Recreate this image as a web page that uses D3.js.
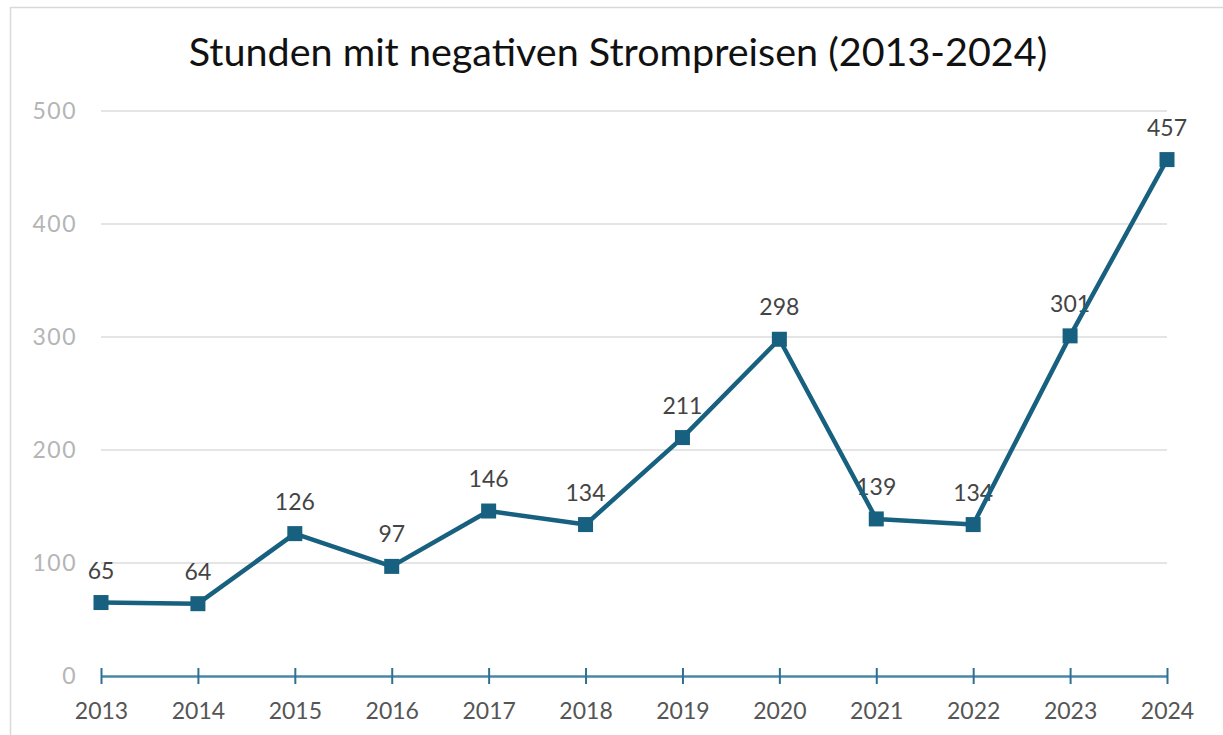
<!DOCTYPE html>
<html><head><meta charset="utf-8">
<script src="https://cdn.jsdelivr.net/npm/d3@7"></script>
<style>body{margin:0;background:#fff}svg{display:block}</style>
</head><body>
<svg id="c" width="1223" height="735"></svg>
<script>
const years = ["2013","2014","2015","2016","2017","2018","2019","2020","2021","2022","2023","2024"];
const hours = [65,64,126,97,146,134,211,298,139,134,301,457];
const yTicks = [0,100,200,300,400,500];
const title = "Stunden mit negativen Strompreisen (2013-2024)";

const svg = d3.select("#c");
const font = "Lato, 'Open Sans', sans-serif";
svg.append("rect").attr("x",10.5).attr("y",7.5).attr("width",1240).attr("height",760)
  .attr("fill","#fff").attr("stroke","#d9d9d9").attr("stroke-width",1.5);

const x = d3.scalePoint().domain(years).range([101,1167]);
const y = d3.scaleLinear().domain([0,500]).range([676,111]);

svg.append("text").attr("x",618).attr("y",66).attr("text-anchor","middle")
  .attr("font-family",font).attr("font-size",39.5).attr("fill","#111").text(title);

// grid
svg.append("g").selectAll("line").data(yTicks.filter(d=>d>0)).join("line")
  .attr("x1",101).attr("x2",1167).attr("y1",d=>y(d)).attr("y2",d=>y(d))
  .attr("stroke","#dcdcdc").attr("stroke-width",1.5);

// y labels
svg.append("g").selectAll("text").data(yTicks).join("text")
  .attr("x",77).attr("y",d=>y(d)).attr("dy","0.35em").attr("text-anchor","end")
  .attr("font-family",font).attr("letter-spacing",1.5)
  .attr("font-size",23).attr("fill","#b5b5b5").text(d=>d);

// x axis
const xa = svg.append("g").attr("transform",`translate(0,${y(0)})`)
  .call(d3.axisBottom(x).tickSizeInner(0).tickSizeOuter(0).tickPadding(0));
xa.select(".domain").attr("stroke","#4a87a6").attr("stroke-width",2.5);
xa.selectAll(".tick line").attr("y1",-8).attr("y2",8).attr("stroke","#2f7092").attr("stroke-width",2);
xa.selectAll(".tick text").attr("y",43).attr("dy",0).attr("font-family",font).attr("font-size",23).attr("fill","#555");

// labels (under line)
svg.append("g").selectAll("text").data(hours).join("text")
  .attr("x",(d,i)=>x(years[i])).attr("y",d=>y(d)-24).attr("text-anchor","middle")
  .attr("font-family",font).attr("font-size",23).attr("fill","#444").text(d=>d);

// line
const line = d3.line().x((d,i)=>x(years[i])).y(d=>y(d));
svg.append("path").datum(hours).attr("d",line).attr("fill","none")
  .attr("stroke","#17607f").attr("stroke-width",4.5).attr("stroke-linejoin","round");

svg.append("g").selectAll("rect").data(hours).join("rect")
  .attr("x",(d,i)=>x(years[i])-7.5).attr("y",d=>y(d)-7.5).attr("width",15).attr("height",15)
  .attr("fill","#17607f");
</script>
</body></html>
